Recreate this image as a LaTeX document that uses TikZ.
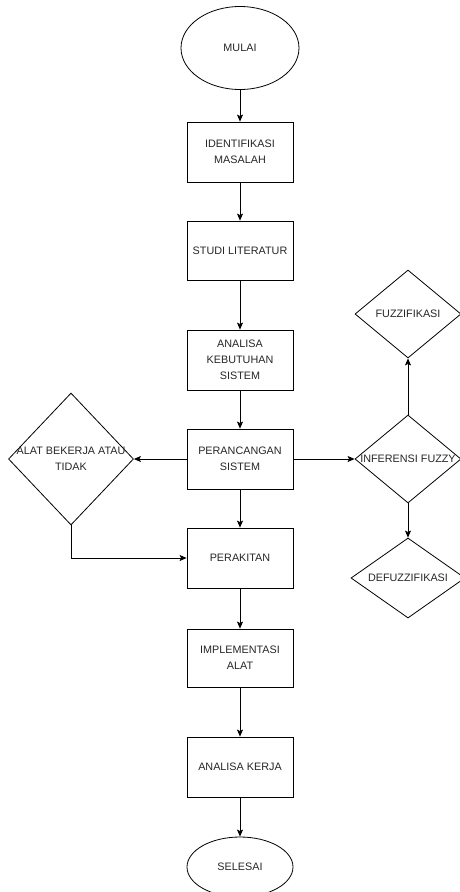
\documentclass[tikz,border=0pt]{standalone}
\usepackage{fontspec}
\setmainfont{Liberation Sans}
\usetikzlibrary{shapes.geometric,arrows.meta}
\begin{document}
\begin{tikzpicture}[x=1pt,y=-1pt,
  every node/.style={font=\fontsize{10.8}{16}\selectfont, text=black!85},
  proc/.style={draw, line width=0.8pt, minimum width=106pt, minimum height=60pt, align=center, inner sep=0pt},
  term/.style={draw, ellipse, line width=0.8pt, inner sep=0pt},
  dia/.style={draw, diamond, line width=0.8pt, inner sep=0pt},
  arr/.style={-{Stealth[length=7pt,width=6pt,inset=1.5pt]}, line width=0.8pt}]
\useasboundingbox (0,0) rectangle (460,892);
\node[term, minimum width=118pt, minimum height=83pt] (mulai) at (240,48) {MULAI};
\node[proc] (ident) at (240,152) {IDENTIFIKASI\\MASALAH};
\node[proc, minimum height=59pt] (studi) at (240,250.5) {STUDI LITERATUR};
\node[proc] (analisa) at (240,360) {ANALISA\\KEBUTUHAN\\SISTEM};
\node[proc] (peran) at (240,459) {PERANCANGAN\\SISTEM};
\node[proc] (perakitan) at (240,558) {PERAKITAN};
\node[proc, minimum height=58pt] (impl) at (240,658) {IMPLEMENTASI\\ALAT};
\node[proc] (kerja) at (240,767) {ANALISA KERJA};
\node[term, minimum width=106pt, minimum height=60pt] (selesai) at (240,867) {SELESAI};
\node[dia, minimum width=125pt, minimum height=132pt, label={[align=center]center:ALAT BEKERJA ATAU\\TIDAK}] (alat) at (71,459) {};
\node[dia, minimum width=106pt, minimum height=88pt, label={center:FUZZIFIKASI}] (fuzz) at (408,314) {};
\node[dia, minimum width=106pt, minimum height=88pt, label={center:INFERENSI FUZZY}] (inf) at (408,459) {};
\node[dia, minimum width=114pt, minimum height=80pt, label={center:DEFUZZIFIKASI}] (defuzz) at (408,578) {};
\draw[arr] (mulai) -- (ident);
\draw[arr] (ident) -- (studi);
\draw[arr] (studi) -- (analisa);
\draw[arr] (analisa) -- (peran);
\draw[arr] (peran) -- (perakitan);
\draw[arr] (perakitan) -- (impl);
\draw[arr] (impl) -- (kerja);
\draw[arr] (kerja) -- (selesai);
\draw[arr] (peran.west) -- (alat.east);
\draw[arr] (peran.east) -- (inf.west);
\draw[arr] (inf.north) -- (fuzz.south);
\draw[arr] (inf.south) -- (defuzz.north);
\draw[arr] (alat.south) |- (perakitan.west);
\end{tikzpicture}
\end{document}
